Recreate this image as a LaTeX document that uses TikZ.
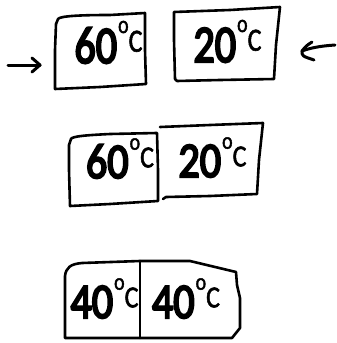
\documentclass[tikz,border=0pt]{standalone}
\usepackage{fontspec}
\setmainfont{Carlito}
\newfontfamily\digf{Carlito}[FakeBold=4.5]
\newfontfamily\supf{Carlito}[FakeBold=1.8]
\newcommand\tempc[2]{\scalebox{1}[#2]{\fontsize{42}{42}\digf #1\kern1pt\raisebox{24pt}{\fontsize{20}{20}\supf o}\raisebox{9pt}{\fontsize{26}{26}\supf C}}}
\tikzset{
  hand/.style={line width=2.6pt, line join=round, line cap=round},
  lbl/.style={inner sep=0pt, anchor=base},
  pen/.style={line width=3pt, line cap=round, line join=round}
}
\begin{document}
\begin{tikzpicture}[x=1pt,y=-1pt]
\useasboundingbox (0,0) rectangle (337,343);
% row 1
\draw[hand] (58,19) .. controls (60,16) and (80,15) .. (110,15) -- (145,13) -- (145,50) -- (146,84)
  -- (100,87) -- (55,89) -- (55,50) -- (56,24) -- cycle;
\draw[hand] (174,12) -- (230,10) -- (280,7) -- (276,45) -- (274,79) -- (220,80) -- (177,81) -- (175,79) -- (174,40) -- cycle;
\node[lbl] (a1) at (108.5,63) {\tempc{60}{1.25}};
\node[lbl] (a2) at (227.5,62) {\tempc{20}{1.25}};
\coordinate (la0) at (8,65);
\coordinate (la1) at (40,65);
\coordinate (ra0) at (335,45);
\coordinate (ra1) at (302,51);
\draw[pen] (la0) -- (la1);
\draw[pen] ([shift={(-8,-7)}]la1) -- (la1) -- ([shift={(-8,7)}]la1);
\draw[pen] (ra0) .. controls (320,46) and (310,48) .. (ra1);
\draw[pen] ([shift={(10,-9)}]ra1) .. controls ([shift={(4,-5)}]ra1) .. (ra1) .. controls ([shift={(0,5)}]ra1) .. ([shift={(12,9)}]ra1);
% row 2
\draw[hand] (71,139) .. controls (72,136) and (90,135) .. (110,134) -- (157,133) -- (158,170) -- (158,201)
  -- (110,204) -- (70,206) -- (69,170) -- (69,145) -- cycle;
\draw[hand] (160,127) -- (210,125) -- (263,123) -- (259,160) -- (257,194) -- (210,196) -- (166,197) -- (163,199);
\node[lbl] (b1) at (120,178) {\tempc{60}{1.18}};
\node[lbl] (b2) at (212.5,177) {\tempc{20}{1.18}};
% row 3
\draw[hand] (65,338) -- (65,276) .. controls (66,268) and (70,264) .. (82,263) -- (140,261) -- (190,261) -- (236,272)
  -- (237,285) -- (240,298) -- (240,328) -- (232,338) -- cycle;
\draw[hand] (140,261) -- (140,338);
\node[lbl] (c1) at (104.5,318) {\tempc{40}{1.18}};
\node[lbl] (c2) at (186,318) {\tempc{40}{1.18}};
\end{tikzpicture}
\end{document}
